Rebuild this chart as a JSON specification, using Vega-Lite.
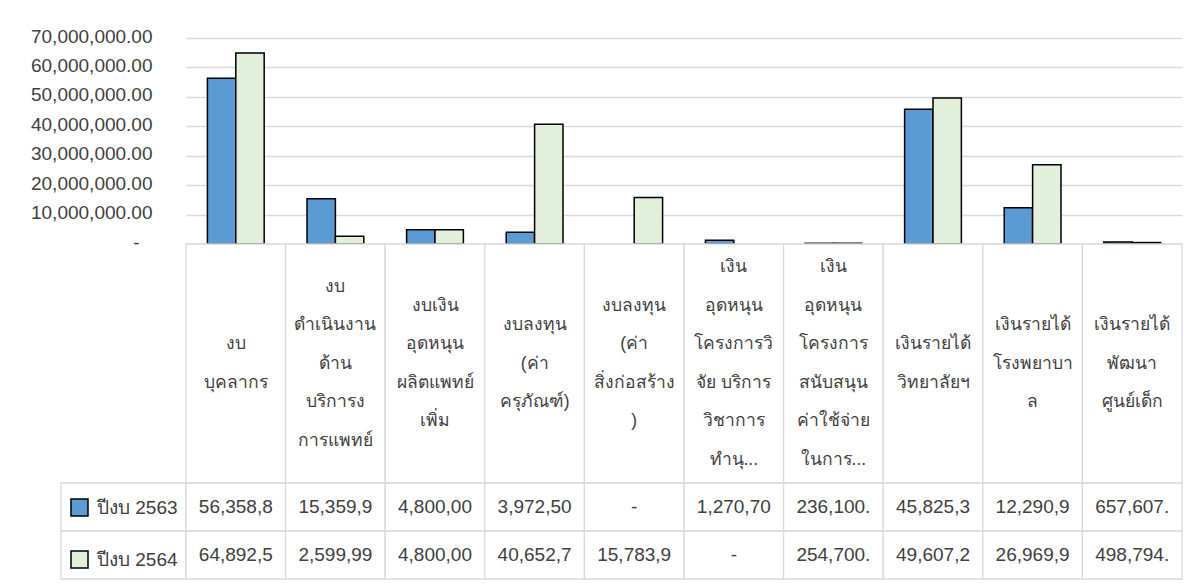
{
  "$schema": "https://vega.github.io/schema/vega-lite/v6.json",
  "background": "white",
  "padding": {"left": 30, "top": 27, "right": 5, "bottom": 5},
  "datasets": {
    "bars": [
      {"cat": "งบบุคลากร", "series": "ปีงบ 2563", "value": 56358800, "shown": "56,358,8"},
      {"cat": "งบบุคลากร", "series": "ปีงบ 2564", "value": 64892500, "shown": "64,892,5"},
      {"cat": "งบดำเนินงาน", "series": "ปีงบ 2563", "value": 15359900, "shown": "15,359,9"},
      {"cat": "งบดำเนินงาน", "series": "ปีงบ 2564", "value": 2599990, "shown": "2,599,99"},
      {"cat": "งบเงินอุดหนุน", "series": "ปีงบ 2563", "value": 4800000, "shown": "4,800,00"},
      {"cat": "งบเงินอุดหนุน", "series": "ปีงบ 2564", "value": 4800000, "shown": "4,800,00"},
      {"cat": "งบลงทุนครุภัณฑ์", "series": "ปีงบ 2563", "value": 3972500, "shown": "3,972,50"},
      {"cat": "งบลงทุนครุภัณฑ์", "series": "ปีงบ 2564", "value": 40652700, "shown": "40,652,7"},
      {"cat": "งบลงทุนสิ่งก่อสร้าง", "series": "ปีงบ 2563", "value": 0, "shown": "-"},
      {"cat": "งบลงทุนสิ่งก่อสร้าง", "series": "ปีงบ 2564", "value": 15783900, "shown": "15,783,9"},
      {"cat": "เงินอุดหนุนวิจัย", "series": "ปีงบ 2563", "value": 1270700, "shown": "1,270,70"},
      {"cat": "เงินอุดหนุนวิจัย", "series": "ปีงบ 2564", "value": 0, "shown": "-"},
      {"cat": "เงินอุดหนุนสนับสนุน", "series": "ปีงบ 2563", "value": 236100, "shown": "236,100."},
      {"cat": "เงินอุดหนุนสนับสนุน", "series": "ปีงบ 2564", "value": 254700, "shown": "254,700."},
      {"cat": "เงินรายได้วิทยาลัย", "series": "ปีงบ 2563", "value": 45825300, "shown": "45,825,3"},
      {"cat": "เงินรายได้วิทยาลัย", "series": "ปีงบ 2564", "value": 49607200, "shown": "49,607,2"},
      {"cat": "เงินรายได้โรงพยาบาล", "series": "ปีงบ 2563", "value": 12290900, "shown": "12,290,9"},
      {"cat": "เงินรายได้โรงพยาบาล", "series": "ปีงบ 2564", "value": 26969900, "shown": "26,969,9"},
      {"cat": "เงินรายได้ศูนย์เด็ก", "series": "ปีงบ 2563", "value": 657607, "shown": "657,607."},
      {"cat": "เงินรายได้ศูนย์เด็ก", "series": "ปีงบ 2564", "value": 498794, "shown": "498,794."}
    ],
    "cats": [
      {"cat": "งบบุคลากร", "label": "งบ\nบุคลากร"},
      {"cat": "งบดำเนินงาน", "label": "งบ\nดำเนินงาน\nด้าน\nบริการง\nการแพทย์"},
      {"cat": "งบเงินอุดหนุน", "label": "งบเงิน\nอุดหนุน\nผลิตแพทย์\nเพิ่ม"},
      {"cat": "งบลงทุนครุภัณฑ์", "label": "งบลงทุน\n(ค่า\nครุภัณฑ์)"},
      {"cat": "งบลงทุนสิ่งก่อสร้าง", "label": "งบลงทุน\n(ค่า\nสิ่งก่อสร้าง\n)"},
      {"cat": "เงินอุดหนุนวิจัย", "label": "เงิน\nอุดหนุน\nโครงการวิ\nจัย บริการ\nวิชาการ\nทำนุ..."},
      {"cat": "เงินอุดหนุนสนับสนุน", "label": "เงิน\nอุดหนุน\nโครงการ\nสนับสนุน\nค่าใช้จ่าย\nในการ..."},
      {"cat": "เงินรายได้วิทยาลัย", "label": "เงินรายได้\nวิทยาลัยฯ"},
      {"cat": "เงินรายได้โรงพยาบาล", "label": "เงินรายได้\nโรงพยาบา\nล"},
      {"cat": "เงินรายได้ศูนย์เด็ก", "label": "เงินรายได้\nพัฒนา\nศูนย์เด็ก"}
    ],
    "series": [
      {"series": "ปีงบ 2563"},
      {"series": "ปีงบ 2564"}
    ]
  },
  "columns": 2,
  "spacing": 0,
  "bounds": "flush",
  "resolve": {
    "scale": {"color": "independent", "fill": "independent"},
    "legend": {"color": "independent", "fill": "independent"}
  },
  "concat": [
    {
      "width": 125, "height": 206,
      "data": {"values": [{}]},
      "mark": {"type": "text", "text": ""},
      "encoding": {}
    },
    {
      "width": 996, "height": 206,
      "data": {"name": "bars"},
      "transform": [{"filter": "datum.value > 0"}],
      "mark": {"type": "bar", "stroke": "black", "strokeWidth": 1.5},
      "encoding": {
        "x": {"field": "cat", "type": "nominal", "sort": null, "axis": null,
              "scale": {"paddingInner": 0.43, "paddingOuter": 0.215}},
        "xOffset": {"field": "series", "type": "nominal", "sort": ["ปีงบ 2563", "ปีงบ 2564"]},
        "y": {"field": "value", "type": "quantitative",
              "scale": {"domain": [0, 70000000], "nice": false},
              "axis": {"values": [0, 10000000, 20000000, 30000000, 40000000, 50000000, 60000000, 70000000],
                       "labelExpr": "datum.value == 0 ? '-' : format(datum.value, ',.2f')",
                       "title": null, "domain": false, "ticks": false,
                       "gridColor": "#D9D9D9", "gridWidth": 1.3,
                       "labelFont": "Liberation Sans", "labelFontSize": 19, "labelColor": "#404040",
                       "labelOffset": -2,
                       "labelPadding": {"condition": {"test": "datum.value == 0", "value": 47}, "value": 34}}},
        "color": {"field": "series", "type": "nominal",
                  "scale": {"domain": ["ปีงบ 2563", "ปีงบ 2564"], "range": ["#5B9BD5", "#E2EFDA"]},
                  "legend": null}
      }
    },
    {
      "width": 125, "height": 239,
      "data": {"values": [{}]},
      "mark": {"type": "text", "text": ""},
      "encoding": {}
    },
    {
      "width": 996, "height": 239,
      "data": {"name": "cats"},
      "layer": [
        {
          "mark": {"type": "rect", "fill": "white", "stroke": "#D9D9D9", "strokeWidth": 1.3},
          "encoding": {
            "x": {"field": "cat", "type": "nominal", "sort": null, "axis": null,
                  "scale": {"paddingInner": 0, "paddingOuter": 0}}
          }
        },
        {
          "mark": {"type": "text", "fontSize": 17.5, "lineHeight": 38.5, "lineBreak": "\n",
                   "color": "#404040", "baseline": "middle", "align": "center",
                   "dy": {"expr": "-(length(split(datum.label, '\\n')) - 1) * 19.25"}},
          "encoding": {
            "x": {"field": "cat", "type": "nominal", "sort": null, "axis": null},
            "text": {"field": "label"}
          }
        }
      ]
    },
    {
      "width": 125, "height": 96,
      "data": {"name": "series"},
      "mark": {"type": "rect", "fill": "white", "stroke": "#D9D9D9", "strokeWidth": 1.3},
      "encoding": {
        "y": {"field": "series", "type": "nominal", "sort": null, "axis": null,
              "scale": {"paddingInner": 0, "paddingOuter": 0}}
      }
    },
    {
      "width": 996, "height": 96,
      "data": {"name": "bars"},
      "layer": [
        {
          "mark": {"type": "rect", "fill": "white", "stroke": "#D9D9D9", "strokeWidth": 1.3},
          "encoding": {
            "x": {"field": "cat", "type": "nominal", "sort": null, "axis": null,
                  "scale": {"paddingInner": 0, "paddingOuter": 0}},
            "y": {"field": "series", "type": "nominal", "sort": null, "axis": null,
                  "scale": {"paddingInner": 0, "paddingOuter": 0}}
          }
        },
        {
          "mark": {"type": "text", "fontSize": 19, "font": "Liberation Sans", "color": "#404040",
                   "baseline": "middle", "align": "center"},
          "encoding": {
            "x": {"field": "cat", "type": "nominal", "sort": null, "axis": null},
            "y": {"field": "series", "type": "nominal", "sort": null, "axis": null},
            "text": {"field": "shown"}
          }
        },
        {
          "mark": {"type": "square", "size": 0, "strokeWidth": 0, "stroke": "black"},
          "encoding": {
            "x": {"field": "cat", "type": "nominal", "sort": null, "axis": null},
            "y": {"field": "series", "type": "nominal", "sort": null, "axis": null},
            "fill": {"field": "series", "type": "nominal",
                     "scale": {"domain": ["ปีงบ 2563", "ปีงบ 2564"], "range": ["#5B9BD5", "#E2EFDA"]},
                     "legend": {"orient": "left", "title": null, "symbolType": "square",
                                "symbolSize": 289, "symbolStrokeColor": "black", "symbolStrokeWidth": 1.5,
                                "symbolOpacity": 1,
                                "labelFontSize": 19, "labelColor": "#404040", "labelOffset": 8,
                                "rowPadding": 29, "padding": 15, "offset": -7}}
          }
        }
      ]
    }
  ],
  "config": {
    "view": {"stroke": null},
    "font": "Liberation Sans"
  }
}
